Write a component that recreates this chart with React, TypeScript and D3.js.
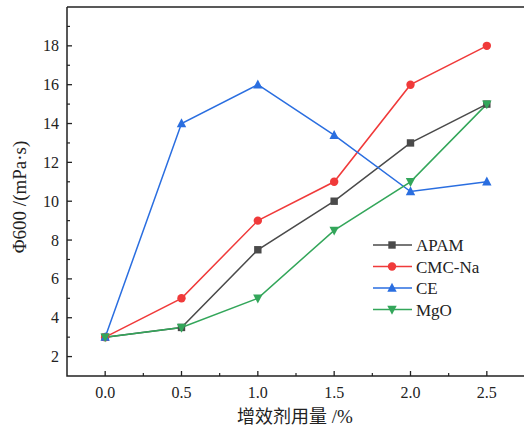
import React from "react";
import * as d3 from "d3";

const dosages = [0, 0.5, 1.0, 1.5, 2.0, 2.5];
const apam = [3, 3.5, 7.5, 10, 13, 15];
const cmcNa = [3, 5, 9, 11, 16, 18];
const ce = [3, 14, 16, 13.4, 10.5, 11];
const mgo = [3, 3.5, 5, 8.5, 11, 15];
const seriesNames = ["APAM", "CMC-Na", "CE", "MgO"];
const seriesColors = ["#4a4a4a", "#f03a3a", "#2a6ee0", "#33a65a"];
const seriesMarkers = ["square", "circle", "triangle", "invtriangle"];
const xTicks = [0, 0.5, 1.0, 1.5, 2.0, 2.5];
const yTicks = [2, 4, 6, 8, 10, 12, 14, 16, 18];

const W = 524, H = 430;
const L = 67, R = 525, T = 7, B = 376;
const FONT = "Liberation Serif, Times New Roman, DejaVu Serif, serif";

function Marker({ type, x, y, color }: { type: string; x: number; y: number; color: string }) {
  const s = 4.2;
  if (type === "square") return <rect x={x - s + 0.5} y={y - s + 0.5} width={2 * s - 1} height={2 * s - 1} fill={color} />;
  if (type === "circle") return <circle cx={x} cy={y} r={s} fill={color} />;
  if (type === "triangle")
    return <path d={`M${x},${y - s - 1}L${x + s + 0.5},${y + s - 0.5}L${x - s - 0.5},${y + s - 0.5}Z`} fill={color} />;
  return <path d={`M${x},${y + s + 1}L${x + s + 0.5},${y - s + 0.5}L${x - s - 0.5},${y - s + 0.5}Z`} fill={color} />;
}

export default function App() {
  const x = d3.scaleLinear().domain([-0.25, 2.75]).range([L, R]);
  const y = d3.scaleLinear().domain([1, 20]).range([B, T]);
  const data = [apam, cmcNa, ce, mgo];
  const line = d3
    .line<number>()
    .x((_, i) => x(dosages[i]))
    .y((d) => y(d));
  const xMinor = d3.range(0.25, 2.75, 0.5);
  const yMinor = d3.range(1, 20, 2).filter((v) => v > 1);
  const ts = { fontFamily: FONT, fill: "#222" } as React.CSSProperties;
  return (
    <svg width={W} height={H} style={{ position: "absolute", left: 0, top: 0, background: "#fff" }}>
      <rect x={0} y={0} width={W} height={H} fill="#fff" />
      {data.map((d, i) => (
        <path key={"l" + i} d={line(d) || ""} fill="none" stroke={seriesColors[i]} strokeWidth={1.5} />
      ))}
      {data.map((d, i) =>
        d.map((v, j) => (
          <Marker key={`m${i}-${j}`} type={seriesMarkers[i]} x={x(dosages[j])} y={y(v)} color={seriesColors[i]} />
        ))
      )}
      <path d={`M${L},${T}H${R}`} stroke="#222" strokeWidth={1.5} fill="none" />
      <path d={`M${L},${T}V${B}H${R}`} stroke="#222" strokeWidth={1.5} fill="none" />
      {xTicks.map((t) => (
        <g key={"xt" + t}>
          <line x1={x(t)} x2={x(t)} y1={B} y2={B - 5} stroke="#222" strokeWidth={1.3} />
          <text x={x(t)} y={B + 22} textAnchor="middle" style={{ ...ts, fontSize: 16 }}>
            {t.toFixed(1)}
          </text>
        </g>
      ))}
      {xMinor.map((t) => (
        <line key={"xm" + t} x1={x(t)} x2={x(t)} y1={B} y2={B - 3} stroke="#222" strokeWidth={1.2} />
      ))}
      {yTicks.map((t) => (
        <g key={"yt" + t}>
          <line x1={L} x2={L + 5} y1={y(t)} y2={y(t)} stroke="#222" strokeWidth={1.3} />
          <text x={L - 8} y={y(t) + 5.5} textAnchor="end" style={{ ...ts, fontSize: 16 }}>
            {t}
          </text>
        </g>
      ))}
      {yMinor.map((t) => (
        <line key={"ym" + t} x1={L} x2={L + 3} y1={y(t)} y2={y(t)} stroke="#222" strokeWidth={1.2} />
      ))}
      <text transform={`translate(26,197) rotate(-90)`} textAnchor="middle" style={{ ...ts, fontSize: 19 }}>
        Φ600 /(mPa·s)
      </text>
      <text x={295} y={423} textAnchor="middle" style={{ ...ts, fontSize: 19 }}>
        <tspan style={{ fontFamily: "Noto Sans CJK SC, sans-serif", fontSize: 18 }}>增效剂用量</tspan> /%
      </text>
      {seriesNames.map((n, i) => {
        const ly = 245 + i * 21.5;
        return (
          <g key={"lg" + i}>
            <line x1={373} x2={412} y1={ly} y2={ly} stroke={seriesColors[i]} strokeWidth={1.5} />
            <Marker type={seriesMarkers[i]} x={392} y={ly} color={seriesColors[i]} />
            <text x={416} y={ly + 6} style={{ ...ts, fontSize: 17 }}>
              {n}
            </text>
          </g>
        );
      })}
    </svg>
  );
}
